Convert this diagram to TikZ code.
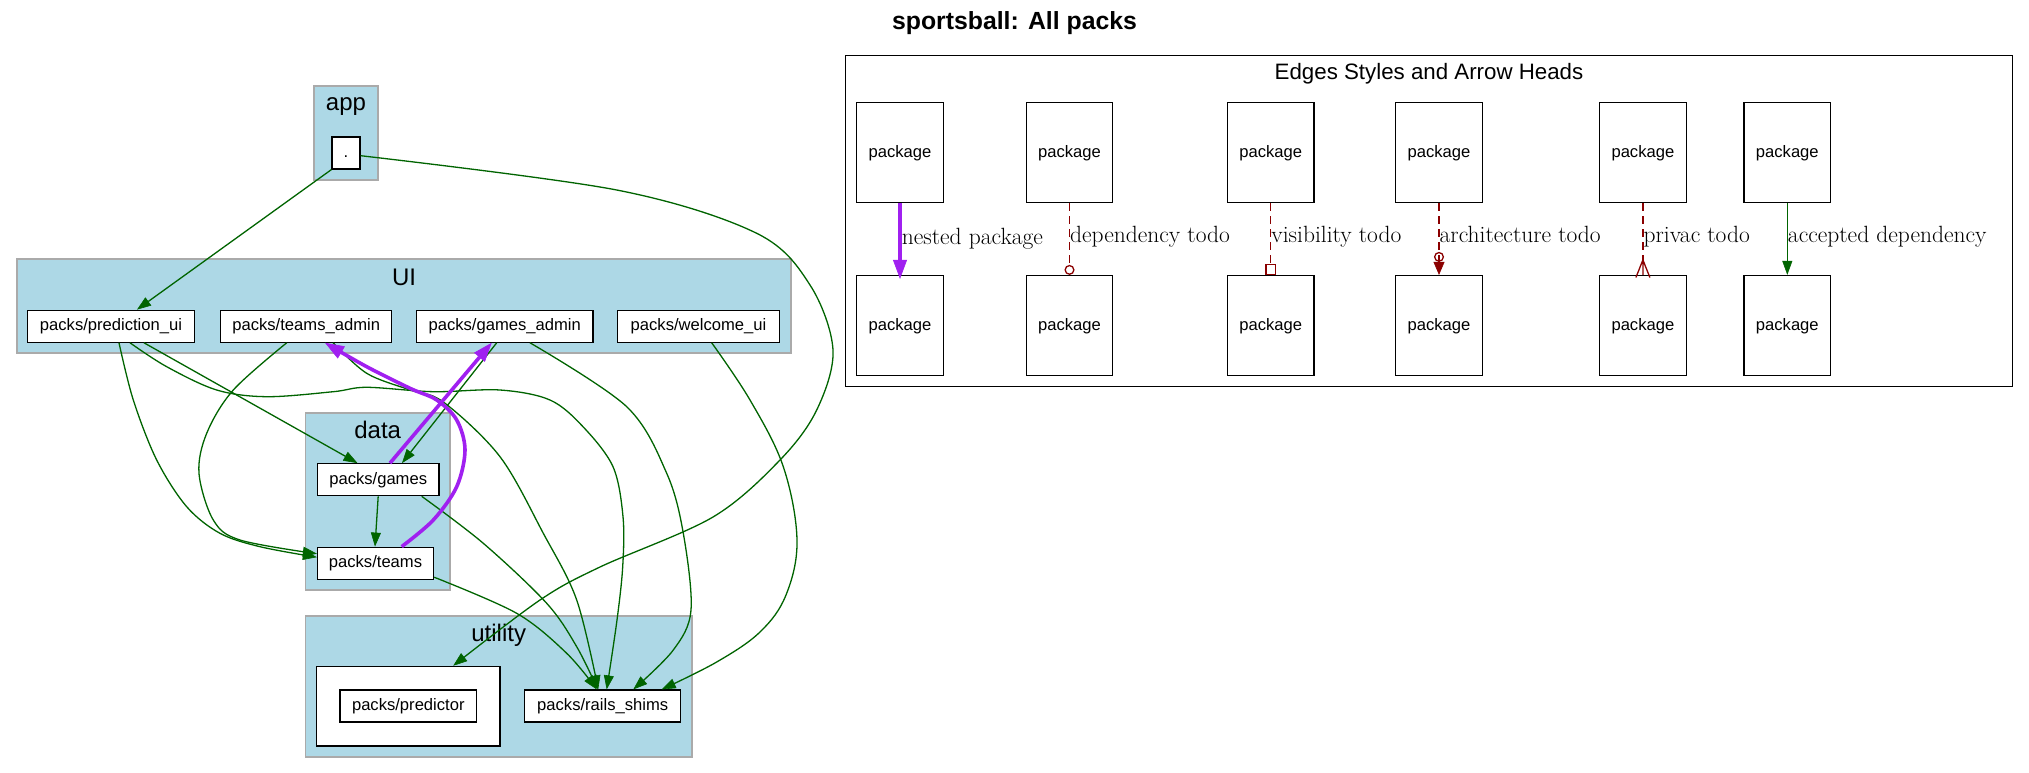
\documentclass[tikz,border=0pt]{standalone}
\usepackage{fontspec}
\setsansfont{Liberation Sans}
\usetikzlibrary{arrows.meta}
\definecolor{clfill}{HTML}{ADD8E6}
\definecolor{clline}{HTML}{AAAAAA}
\definecolor{dgreen}{HTML}{006400}
\definecolor{dred}{HTML}{8B0000}
\definecolor{purp}{HTML}{A020F0}
\begin{document}
\begin{tikzpicture}[x=1pt,y=-1pt,
  pk/.style={draw=black, line width=1.2pt, fill=white, inner sep=0pt, minimum height=32pt,
    text height=12pt, text depth=2.6pt, font=\sffamily\fontsize{16.6}{20}\selectfont},
  lg/.style={pk, minimum width=86.5pt, minimum height=100pt},
  cluster/.style={draw=clline, line width=1.8pt, fill=clfill, inner sep=0pt},
  cllabel/.style={anchor=base, inner sep=0pt, font=\sffamily\fontsize{24}{28}\selectfont},
  dep/.style={draw=dgreen, line width=1.3pt, -{Triangle[length=14pt,width=10pt,line width=0.6pt]}},
  nest/.style={draw=purp, line width=3.6pt, -{Triangle[length=19pt,width=14pt,line width=0.6pt]}},
  todo/.style={draw=dred, line width=1.3pt, dash pattern=on 7.5pt off 5.5pt},
  elabel/.style={anchor=base west, inner sep=0pt, font=\fontsize{23.5}{28}\selectfont, text=black},
]
\fill[white] (0,0) rectangle (2029,773);
\useasboundingbox (0,0) rectangle (2029,773);

% title
\node[anchor=base, inner sep=0pt, font=\sffamily\bfseries\fontsize{24.8}{28}\selectfont] (title) at (1014.5,29.3) {sportsball: All packs};

% clusters
\node[cluster, minimum width=64pt, minimum height=94pt] (capp) at (346,133) {};
\node[cllabel] (lapp) at (346,111) {app};
\node[cluster, minimum width=774pt, minimum height=94pt] (cui) at (404,306) {};
\node[cllabel] (lui) at (404,285) {UI};
\node[cluster, minimum width=144.6pt, minimum height=177pt] (cdata) at (377.7,501.5) {};
\node[cllabel] (ldata) at (377.7,438.3) {data};
\node[cluster, minimum width=386.6pt, minimum height=141pt] (cutil) at (498.7,686.5) {};
\node[cllabel] (lutil) at (498.7,641.5) {utility};

% nodes
\node[pk, minimum width=28pt] (dot) at (346,153) {.};
\node[pk, minimum width=167pt] (pred) at (111,326.2) {packs/prediction\_ui};
\node[pk, minimum width=171pt] (tadmin) at (306.2,326.2) {packs/teams\_admin};
\node[pk, minimum width=176.7pt] (gadmin) at (504.7,326.2) {packs/games\_admin};
\node[pk, minimum width=161.6pt] (welcome) at (698.5,326.2) {packs/welcome\_ui};
\node[pk, minimum width=121.5pt] (games) at (378.2,479.7) {packs/games};
\node[pk, minimum width=116pt] (teams) at (375.5,563.2) {packs/teams};
\node[pk, minimum width=183.6pt, minimum height=79.7pt] (pframe) at (408.2,706.2) {};
\node[pk, minimum width=136.5pt] (predictor) at (408.3,706) {packs/predictor};
\node[pk, minimum width=156pt] (rails) at (602.7,706) {packs/rails\_shims};

% main edges
\draw[dep] (dot.south west) -- ([xshift=26pt]pred.north);
\draw[dep] plot[smooth, tension=0.55] coordinates {([yshift=-2.7pt]dot.east) (616.7,190) (756.7,233.3) (810,285) (833,350) (816.7,410) (780,460) (713,517) (600,567) (540,600) ([xshift=45pt]pframe.north)};
\draw[dep] ([xshift=33pt]pred.south) -- ([xshift=-20.7pt]games.north);
\draw[dep] plot[smooth, tension=0.55] coordinates {([xshift=8pt]pred.south) (133.3,400) (156.7,460) (186.7,506.7) (220,533.3) (260,546.7) ([yshift=6pt]teams.west)};
\draw[dep] plot[smooth, tension=0.55] coordinates {([xshift=-19.5pt]tadmin.south) (233.3,390) (206.7,433.3) (199,473.3) (213.3,520) (240,540) ([yshift=9.5pt]teams.west)};
\draw[dep] plot[smooth, tension=0.55] coordinates {([xshift=27pt]tadmin.south) (366.7,373.3) (410,390) (443.3,402) (500,456.7) (543.3,533.3) (576.7,600) ([xshift=-4.5pt]rails.north)};
\draw[dep] plot[smooth, tension=0.55] coordinates {([xshift=19pt]pred.south) (166.7,366.7) (216.7,390) (266.7,396.7) (333.3,391.7) (366.7,387.3) (433.3,391.7) (500,390) (550,400) (583,426.7) (613,466.7) (623,516.7) (622.7,566.7) (617,620) ([xshift=4pt]rails.north)};
\draw[dep] plot[smooth, tension=0.55] coordinates {([xshift=43.5pt]games.south) (483.3,543.3) (546.7,603.3) (576.7,646.7) ([xshift=-5pt]rails.north)};
\draw[dep] plot[smooth, tension=0.55] coordinates {([yshift=2.6pt]teams.south east) (516.7,613.3) (566.7,653.3) ([xshift=-6pt]rails.north)};
\draw[dep] plot[smooth, tension=0.55] coordinates {([xshift=25.3pt]gadmin.south) (626.7,406.7) (666.7,473.3) (683.3,533.3) (691,610) (673.3,650) ([xshift=30.6pt]rails.north)};
\draw[dep] plot[smooth, tension=0.6] coordinates {([xshift=13.2pt]welcome.south) (750,400) (783.3,466.7) (797,540) (786,595) (760,632) (716.7,662) ([xshift=59pt]rails.north)};
\draw[dep] ([xshift=-8pt]gadmin.south) -- ([xshift=23.8pt]games.north);
\draw[dep] (games.south) -- ([xshift=-0.5pt]teams.north);
\draw[nest] ([xshift=11.8pt]games.north) -- ([xshift=-13pt]gadmin.south);
\draw[nest] plot[smooth, tension=0.55] coordinates {([xshift=26.2pt]teams.north) (433.3,520) (456.7,486.7) (465,450) (456.7,420) (436.7,400) (410,388.3) (366.7,366.7) ([xshift=18.8pt]tadmin.south)};

% legend
\node[draw=black, line width=1.3pt, inner sep=0pt, minimum width=1167pt, minimum height=331.2pt] (legend) at (1429,221.1) {};
\node[cllabel, font=\sffamily\fontsize{22.3}{26}\selectfont] (legendt) at (1429,79.3) {Edges Styles and Arrow Heads};

\node[lg] (l1a) at (900,152.7) {package};
\node[lg] (l1b) at (900,325.5) {package};
\node[lg] (l2a) at (1069.5,152.7) {package};
\node[lg] (l2b) at (1069.5,325.5) {package};
\node[lg] (l3a) at (1270.8,152.7) {package};
\node[lg] (l3b) at (1270.8,325.5) {package};
\node[lg] (l4a) at (1439,152.7) {package};
\node[lg] (l4b) at (1439,325.5) {package};
\node[lg] (l5a) at (1642.9,152.7) {package};
\node[lg] (l5b) at (1642.9,325.5) {package};
\node[lg] (l6a) at (1787.3,152.7) {package};
\node[lg] (l6b) at (1787.3,325.5) {package};

\draw[nest] (l1a) -- node[elabel, pos=0.545] {nested package} ([yshift=-4pt]l1b.north);
\draw[todo, -{Circle[open, length=10pt, width=10pt]}] (l2a) -- node[elabel, pos=0.545] {dependency todo} (l2b);
\draw[todo, -{Square[open, length=11pt, width=11pt]}] (l3a) -- node[elabel, pos=0.545] {visibility todo} (l3b);
\draw[todo, -{Circle[open, length=10pt, width=10pt] Triangle[length=13pt, width=11pt, line width=0.6pt]}] (l4a) -- node[elabel, pos=0.545] {architecture todo} (l4b);
\coordinate (crow) at ([yshift=15pt]l5b.north);
\draw[todo] (l5a) -- node[elabel, pos=0.686] {privac todo} (crow);
\draw[dred, line width=1.3pt] ([xshift=-7pt, yshift=-2.6pt]l5b.north) -- (crow) -- ([xshift=7pt, yshift=-2.6pt]l5b.north) (crow) -- (l5b.north);
\draw[dep] (l6a) -- node[elabel, pos=0.545] {accepted dependency} (l6b);
\end{tikzpicture}
\end{document}
